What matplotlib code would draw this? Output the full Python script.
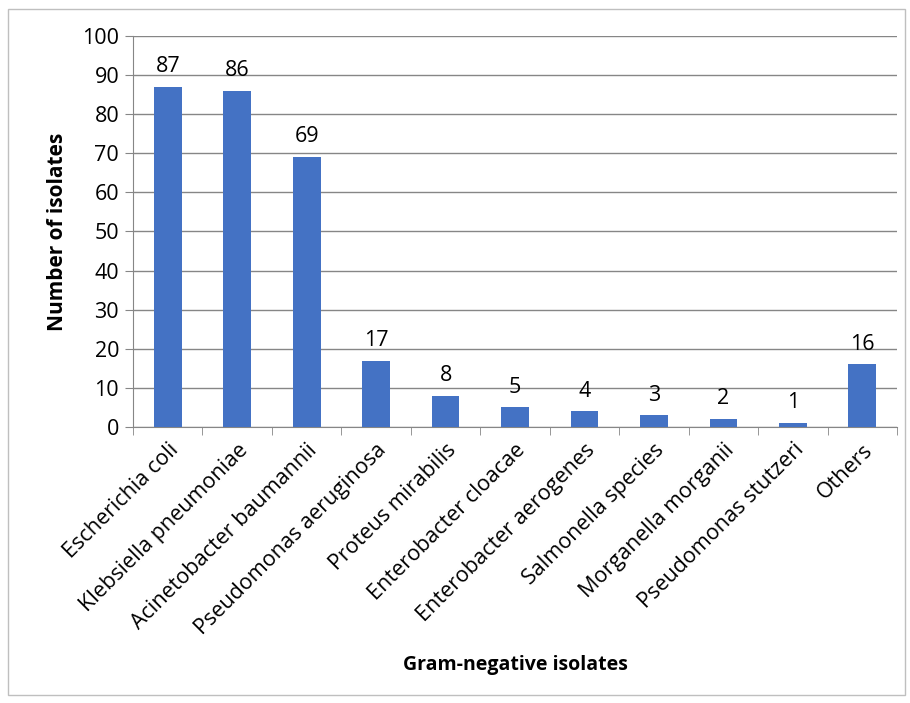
import numpy as np
import matplotlib.pyplot as plt
from matplotlib.patches import Rectangle

plt.rcParams['font.family'] = ['Open Sans', 'DejaVu Sans']

isolates = ['Escherichia coli', 'Klebsiella pneumoniae', 'Acinetobacter baumannii',
            'Pseudomonas aeruginosa', 'Proteus mirabilis', 'Enterobacter cloacae',
            'Enterobacter aerogenes', 'Salmonella species', 'Morganella morganii',
            'Pseudomonas stutzeri', 'Others']
counts = [87, 86, 69, 17, 8, 5, 4, 3, 2, 1, 16]
y_ticks = list(range(0, 101, 10))

fig = plt.figure(figsize=(9.10, 7.03), dpi=100)
ax = fig.add_axes([0.1462, 0.3926, 0.8396, 0.5562])

# border of the chart area
fig.patches.append(Rectangle((0.009, 0.011), 0.985, 0.976, transform=fig.transFigure,
                             fill=False, edgecolor='#bfbfbf', linewidth=1.0))

x = np.arange(len(isolates))
ax.bar(x, counts, width=0.4, color='#4472C4', zorder=3)
for xi, v in zip(x, counts):
    ax.annotate(str(v), (xi, v), xytext=(0, 7), textcoords='offset points',
                ha='center', va='bottom', fontsize=15.5)

ax.set_xlim(-0.5, len(isolates) - 0.5)
ax.set_ylim(0, 100)
ax.set_yticks(y_ticks)
ax.tick_params(axis='y', labelsize=15.5, length=6, color='#868686', pad=4)
ax.yaxis.grid(True, color='#868686', linewidth=1.0, zorder=0)

ax.set_xticks(x)
ax.set_xticklabels(isolates, rotation=45, ha='right', va='top', rotation_mode='anchor',
                   fontsize=15.5)
ax.tick_params(axis='x', length=0, pad=9)
ax.set_xticks(np.arange(-0.5, len(isolates)), minor=True)
ax.tick_params(axis='x', which='minor', length=6, color='#868686')

for side in ['top', 'right']:
    ax.spines[side].set_visible(False)
for side in ['left', 'bottom']:
    ax.spines[side].set_color('#868686')

ax.set_ylabel('Number of isolates', fontsize=15, fontweight='bold', labelpad=10)
fig.text(0.566, 0.054, 'Gram-negative isolates', ha='center', va='center',
         fontsize=14, fontweight='bold')

fig.savefig('out.png', dpi=100)
